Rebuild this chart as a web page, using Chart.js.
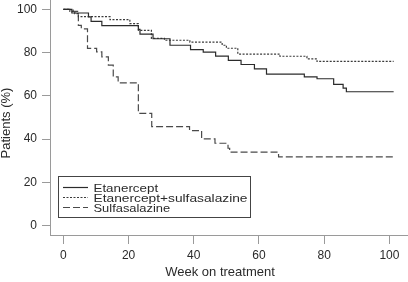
<!DOCTYPE html>
<html>
<head>
<meta charset="utf-8">
<script src="https://cdn.jsdelivr.net/npm/chart.js@4/dist/chart.umd.min.js"></script>
<style>
    body { margin: 0; background: #fff; }
    #wrap { width: 408px; height: 282px; }
</style>
</head>
<body>
<div id="wrap"><canvas id="survivalChart" width="408" height="282"></canvas></div>
<script>
// Kaplan-Meier style curves: week of each step and % after it
const etanWeeks = [0, 2.6, 7.7, 8.5, 11.8, 23, 23.5, 27.5, 32.7, 39, 42.9, 46.7, 50.6, 54.5, 58.6, 62.3, 73.9, 77.8, 82.9, 85.8, 86.8, 101.3];
const etanPct = [100, 98.3, 96.5, 94.4, 92.5, 90.7, 88.5, 86.4, 83.4, 81.4, 80.2, 78.4, 76.4, 74.5, 72.5, 70, 68.8, 67.9, 65.3, 63.6, 61.9, 61.9];

const comboWeeks = [0, 2, 3.5, 4.6, 14.3, 20.4, 23, 27, 31, 38.8, 48.7, 50, 53.5, 66.4, 74.7, 77.8, 101.3];
const comboPct = [100, 99, 98, 96.6, 95.2, 93.4, 90.3, 86.6, 85.7, 84.8, 83.4, 82, 79.3, 78.3, 77.1, 75.9, 75.9];

const sszWeeks = [0, 3, 4.6, 5.5, 7.4, 10.2, 11.8, 13.8, 15.3, 16.8, 23, 27.1, 38.7, 42.4, 46.5, 50.5, 51, 66, 101.3];
const sszPct = [100, 99, 92.6, 91, 81.9, 80.3, 78, 74.2, 68.8, 66, 51.9, 45.8, 43.9, 40.1, 38.1, 35.8, 34, 31.8, 31.8];

const seriesNames = ['Etanercept', 'Etanercept+sulfasalazine', 'Sulfasalazine'];
const xTicks = [0, 20, 40, 60, 80, 100];
const yTicks = [0, 20, 40, 60, 80, 100];

const toPoints = (xs, ys) => xs.map((x, i) => ({ x: x, y: ys[i] }));

const FONT = '"Liberation Sans", Arial, sans-serif';
const AXIS_GREY = '#9a9a9a';
const TEXT = '#2a2a2a';

const lineStyles = [
    { color: '#2b2b2b', dash: [] },
    { color: '#3a3a3a', dash: [2, 1.5] },
    { color: '#4a4a4a', dash: [7, 3] },
];

// titles and the boxed legend sit inside the figure, so draw them by hand
const decorations = {
    id: 'decorations',
    afterDraw(chart) {
        const ctx = chart.ctx;
        ctx.save();
        ctx.fillStyle = TEXT;
        ctx.font = '13px ' + FONT;
        ctx.textAlign = 'center';
        ctx.textBaseline = 'middle';
        ctx.fillText('Week on treatment', 220, 272);

        ctx.save();
        ctx.translate(6, 123);
        ctx.rotate(-Math.PI / 2);
        ctx.fillText('Patients (%)', 0, 0);
        ctx.restore();

        // legend box
        ctx.fillStyle = '#fff';
        ctx.fillRect(58.5, 176.5, 192, 41);
        ctx.strokeStyle = '#444';
        ctx.lineWidth = 1;
        ctx.strokeRect(58.5, 176.5, 192, 41);

        const baselines = [191.5, 201.5, 211.5];
        const widths = [64.6, 154, 76.7];
        ctx.textAlign = 'left';
        ctx.textBaseline = 'alphabetic';
        seriesNames.forEach((name, i) => {
            const y = baselines[i];
            ctx.beginPath();
            ctx.strokeStyle = lineStyles[i].color;
            ctx.lineWidth = 1.2;
            ctx.setLineDash(lineStyles[i].dash);
            ctx.moveTo(63, y - 4);
            ctx.lineTo(88, y - 4);
            ctx.stroke();
            ctx.setLineDash([]);
            ctx.fillStyle = TEXT;
            const sx = widths[i] / ctx.measureText(name).width;
            ctx.save();
            ctx.translate(93.5, y);
            ctx.scale(sx, 0.88);
            ctx.fillText(name, 0, 0);
            ctx.restore();
        });
        ctx.restore();
    }
};

const datasets = [
    toPoints(etanWeeks, etanPct),
    toPoints(comboWeeks, comboPct),
    toPoints(sszWeeks, sszPct),
].map((pts, i) => ({
    label: seriesNames[i],
    data: pts,
    borderColor: lineStyles[i].color,
    borderDash: lineStyles[i].dash,
    borderWidth: 1.2,
    stepped: 'before',
    pointRadius: 0,
    fill: false,
}));

function noPadding(scale) {
    scale.paddingTop = 0;
    scale.paddingBottom = 0;
    scale.paddingLeft = 0;
    scale.paddingRight = 0;
}

const ctx = document.getElementById('survivalChart').getContext('2d');
const survivalChart = new Chart(ctx, {
    type: 'line',
    data: { datasets: datasets },
    options: {
        responsive: false,
        animation: false,
        layout: { padding: 0 },
        plugins: {
            legend: { display: false },
            tooltip: { enabled: false },
        },
        scales: {
            x: {
                type: 'linear',
                min: -4.1,
                max: 105.7,
                afterFit: (scale) => { scale.height = 47; noPadding(scale); },
                afterBuildTicks: (scale) => { scale.ticks = xTicks.map(v => ({ value: v })); },
                grid: { drawOnChartArea: false, color: AXIS_GREY, tickLength: 9 },
                border: { color: AXIS_GREY, width: 1 },
                ticks: { color: TEXT, font: { family: FONT, size: 12 }, padding: 4, maxRotation: 0 },
            },
            y: {
                type: 'linear',
                min: -4.3,
                max: 104.3,
                afterFit: (scale) => { scale.width = 50; noPadding(scale); },
                afterBuildTicks: (scale) => { scale.ticks = yTicks.map(v => ({ value: v })); },
                grid: { drawOnChartArea: false, color: AXIS_GREY, tickLength: 8 },
                border: { color: AXIS_GREY, width: 1 },
                ticks: { color: TEXT, font: { family: FONT, size: 12 }, padding: 5 },
            },
        },
    },
    plugins: [decorations],
});
</script>
</body>
</html>
